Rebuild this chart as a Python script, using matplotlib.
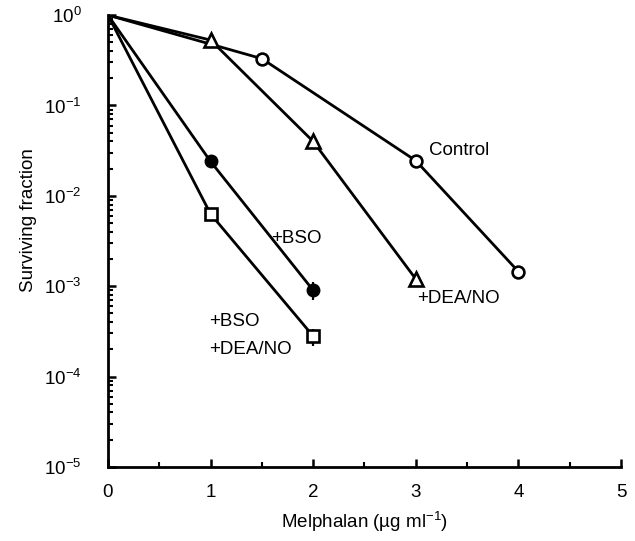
import matplotlib
matplotlib.use('Agg')

from matplotlib import rc
rc('font', family=['Liberation Sans', 'DejaVu Sans'], size=13.5)
rc('mathtext', fontset='custom', rm='Liberation Sans', it='Liberation Sans:italic', bf='Liberation Sans:bold')

from matplotlib import pyplot as plt
from matplotlib.ticker import LogLocator, MultipleLocator, NullFormatter
import numpy as np

###############################################################################
# Data
dose_control = [0, 1.5, 3, 4]
surv_control = [1.0, 0.33, 0.0245, 1.45e-3]

dose_dea = [0, 1, 2, 3]
surv_dea = [1.0, 0.53, 0.04, 1.2e-3]

dose_bso = [0, 1, 2]
surv_bso = [1.0, 0.024, 9.0e-4]
err_bso = [0, 0, 2.0e-4]

dose_both = [0, 1, 2]
surv_both = [1.0, 6.3e-3, 2.8e-4]
err_both = [0, 0, 6.0e-5]

###############################################################################
# Plot
fig = plt.figure(figsize=[6.35, 5.41], dpi=100)
ax = fig.add_axes([0.170, 0.137, 0.808, 0.835])

lw = 2.0
ms = 8.5
every = slice(1, None)
ax.plot(dose_control, surv_control, '-o', color='k', lw=lw, mfc='white', mec='k', mew=1.9,
        ms=ms, markevery=every, zorder=3)
ax.plot(dose_dea, surv_dea, '-^', color='k', lw=lw, mfc='white', mec='k', mew=1.9,
        ms=ms + 1, markevery=every, zorder=3)
ax.plot(dose_bso, surv_bso, '-o', color='k', lw=lw, mfc='k', mec='k', ms=ms + 0.5,
        markevery=every, zorder=3)
ax.errorbar(dose_bso, surv_bso, yerr=err_bso, fmt='none', ecolor='k', elinewidth=1.6, capsize=0, zorder=2)
ax.plot(dose_both, surv_both, '-s', color='k', lw=lw, mfc='white', mec='k', mew=1.9,
        ms=ms - 0.5, markevery=every, zorder=3)
ax.errorbar(dose_both, surv_both, yerr=err_both, fmt='none', ecolor='k', elinewidth=1.6, capsize=0, zorder=2)

ax.set_yscale('log')
ax.set_xlim(0, 5)
ax.set_ylim(1e-5, 1.0)
ax.yaxis.set_major_locator(LogLocator(base=10, numticks=10))
ax.yaxis.set_minor_locator(LogLocator(base=10, subs=np.arange(2, 10), numticks=10))
ax.yaxis.set_minor_formatter(NullFormatter())
ax.xaxis.set_major_locator(MultipleLocator(1))
ax.xaxis.set_minor_locator(MultipleLocator(0.5))

for side in ['top', 'right']:
    ax.spines[side].set_visible(False)
for side in ['left', 'bottom']:
    ax.spines[side].set_linewidth(2.0)
ax.tick_params(which='major', direction='in', length=6, width=1.8, labelsize=13.5)
ax.tick_params(which='minor', direction='in', length=3.5, width=1.5)
ax.tick_params(axis='x', which='major', pad=12)
ax.tick_params(axis='y', which='major', pad=19)

ax.set_xlabel(u'Melphalan (\u00b5g ml$^{-1}$)', fontsize=13.5, labelpad=7)
ax.set_ylabel('Surviving fraction', fontsize=13.5, labelpad=5, y=0.546)

ax.text(3.13, 0.032, 'Control', ha='left', va='center')
ax.text(1.59, 3.4e-3, '+BSO', ha='left', va='center')
ax.text(3.01, 7.4e-4, '+DEA/NO', ha='left', va='center')
ax.text(0.99, 4.1e-4, '+BSO', ha='left', va='center')
ax.text(0.99, 2.0e-4, '+DEA/NO', ha='left', va='center')

fig.savefig('out.png', dpi=100)
